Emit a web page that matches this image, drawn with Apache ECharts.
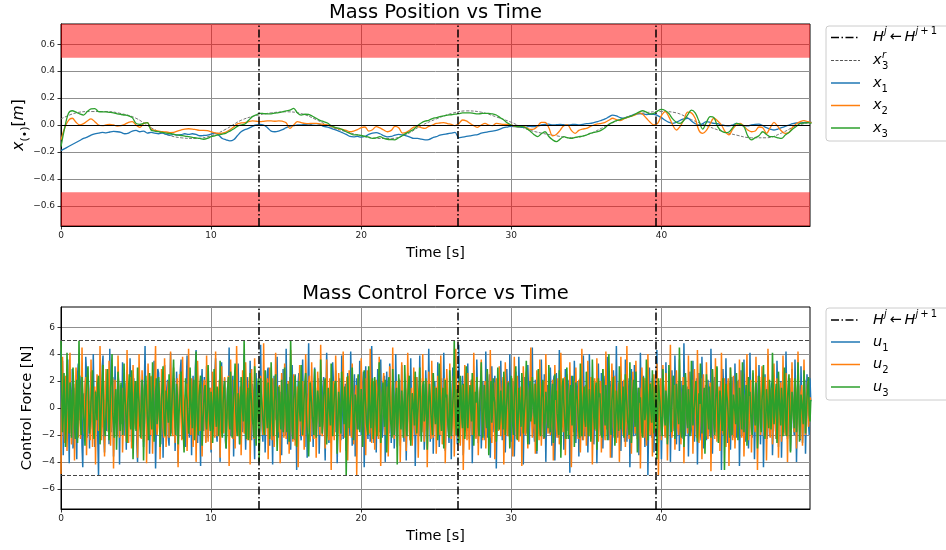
<!DOCTYPE html>
<html>
<head>
<meta charset="utf-8">
<script src="https://cdn.jsdelivr.net/npm/echarts@6/dist/echarts.min.js"></script>
<style>
html,body{margin:0;padding:0;background:#fff}
#chart{width:946px;height:550px}
</style>
</head>
<body>
<div id="chart"></div>
<script>
// ---- data ----
const timeTicks = [0, 10, 20, 30, 40];
const posTicks = [-0.6, -0.4, -0.2, 0, 0.2, 0.4, 0.6];
const forceTicks = [-6, -4, -2, 0, 2, 4, 6];
const switchTimes = [13.2, 26.4, 39.6];
const posBandUpper = [0.5, 0.75];
const posBandLower = [-0.75, -0.5];
const forceLimits = [5, -5];

// mass positions, sampled every 0.25 s
const posStep = 0.25;
const posX1 = [
  -0.19,-0.175,-0.16,-0.145,-0.13,-0.115,-0.10,-0.09,-0.075,-0.065,-0.06,-0.055,-0.058,-0.052,-0.048,-0.05,-0.055,-0.065,-0.06,-0.045,
  -0.04,-0.05,-0.045,-0.06,-0.055,-0.06,-0.065,-0.06,-0.07,-0.075,-0.07,-0.075,-0.072,-0.065,-0.07,-0.065,-0.07,-0.08,-0.078,-0.075,
  -0.068,-0.06,-0.075,-0.1,-0.11,-0.118,-0.11,-0.08,-0.05,-0.035,-0.025,-0.01,0.0,0.005,0.0,-0.02,-0.045,-0.05,-0.045,-0.035,
  -0.02,-0.008,-0.005,0.0,0.0,0.005,0.0,0.008,0.01,0.005,-0.01,-0.015,-0.025,-0.035,-0.045,-0.057,-0.07,-0.085,-0.088,-0.085,
  -0.09,-0.085,-0.07,-0.06,-0.057,-0.065,-0.08,-0.088,-0.085,-0.075,-0.07,-0.074,-0.08,-0.09,-0.1,-0.1,-0.105,-0.11,-0.108,-0.095,
  -0.087,-0.075,-0.07,-0.065,-0.06,-0.055,-0.095,-0.09,-0.085,-0.08,-0.075,-0.072,-0.06,-0.055,-0.05,-0.045,-0.04,-0.03,-0.02,-0.015,
  -0.01,-0.012,-0.015,-0.017,-0.015,-0.01,-0.012,-0.008,0.0,0.005,0.007,0.0,0.002,0.005,0.002,0.0,0.003,0.005,0.0,0.005,
  0.01,0.012,0.018,0.025,0.035,0.045,0.06,0.074,0.068,0.055,0.05,0.06,0.07,0.08,0.085,0.082,0.078,0.08,0.08,0.07,
  0.055,0.035,0.02,0.012,0.02,0.035,0.045,0.05,0.03,0.01,0.0,0.01,0.025,0.02,0.012,0.01,0.0,-0.005,-0.007,0.0,
  0.012,0.005,-0.005,-0.007,0.0,0.005,0.007,-0.005,-0.02,-0.03,-0.037,-0.03,-0.02,-0.01,0.0,0.01,0.015,0.015,0.018,0.02,
  0.02
];
const posX2 = [
  -0.11,-0.02,0.035,0.05,0.02,0.0,0.01,0.03,0.045,0.025,0.0,-0.005,0.0,0.005,0.0,-0.008,-0.005,0.005,0.02,0.025,
  0.0,-0.017,0.01,0.017,-0.03,-0.04,-0.045,-0.05,-0.052,-0.056,-0.055,-0.045,-0.037,-0.03,-0.028,-0.03,-0.035,-0.04,-0.04,-0.042,
  -0.05,-0.058,-0.062,-0.06,-0.052,-0.035,-0.015,0.008,0.015,0.017,0.025,0.03,0.028,0.025,0.027,0.03,0.03,0.028,0.03,0.028,
  0.017,-0.025,0.0,0.025,0.018,0.012,0.01,0.012,0.012,0.008,0.005,0.0,-0.008,-0.02,-0.028,-0.032,-0.04,-0.05,-0.045,-0.035,
  -0.02,-0.015,-0.045,-0.035,-0.012,-0.022,-0.037,-0.05,-0.04,-0.01,-0.02,-0.06,-0.055,-0.037,-0.015,-0.012,-0.02,-0.025,-0.01,0.0,
  0.012,0.015,0.017,0.01,0.005,-0.005,0.01,0.037,0.03,0.012,-0.005,-0.017,0.0,0.012,0.0,-0.005,0.012,0.008,0.005,0.005,
  0.0,-0.01,-0.012,-0.007,-0.02,-0.032,-0.03,-0.01,0.02,0.02,-0.02,-0.08,-0.07,-0.04,-0.005,0.0,-0.04,-0.062,-0.04,-0.03,
  -0.025,-0.012,0.0,0.008,0.012,0.02,0.035,0.05,0.04,0.032,0.045,0.057,0.065,0.075,0.09,0.08,0.05,0.02,0.0,0.012,
  0.07,0.1,0.06,0.0,-0.037,-0.01,0.04,0.095,0.09,0.05,-0.04,-0.062,-0.04,0.01,0.05,0.03,0.0,-0.05,-0.074,-0.03,
  0.0,0.012,-0.01,-0.037,-0.05,-0.045,-0.015,-0.02,-0.062,-0.02,0.02,-0.01,-0.045,-0.062,-0.055,-0.015,0.01,0.025,0.032,0.025,
  0.017
];
const posX3 = [
  -0.16,-0.02,0.087,0.106,0.095,0.082,0.074,0.1,0.12,0.122,0.1,0.098,0.097,0.094,0.09,0.083,0.078,0.074,0.068,0.055,
  0.012,0.005,0.012,0.017,-0.037,-0.045,-0.05,-0.055,-0.06,-0.063,-0.068,-0.074,-0.078,-0.082,-0.087,-0.092,-0.096,-0.1,-0.106,-0.1,
  -0.087,-0.08,-0.074,-0.068,-0.06,-0.045,-0.03,-0.01,0.0,0.007,0.035,0.062,0.075,0.087,0.085,0.082,0.083,0.088,0.092,0.098,
  0.105,0.11,0.124,0.09,0.074,0.08,0.078,0.065,0.05,0.035,0.025,0.015,-0.005,-0.018,-0.024,-0.035,-0.05,-0.062,-0.074,-0.074,
  -0.078,-0.085,-0.09,-0.1,-0.095,-0.087,-0.098,-0.106,-0.108,-0.11,-0.095,-0.078,-0.062,-0.048,-0.032,-0.005,0.015,0.028,0.035,0.048,
  0.055,0.062,0.068,0.074,0.076,0.08,0.084,0.09,0.09,0.09,0.086,0.082,0.085,0.087,0.087,0.082,0.074,0.055,0.037,0.015,
  0.0,-0.008,-0.012,-0.012,-0.025,-0.045,-0.07,-0.087,-0.065,-0.05,-0.085,-0.11,-0.124,-0.105,-0.087,-0.095,-0.1,-0.092,-0.087,-0.083,
  -0.075,-0.062,-0.055,-0.05,-0.038,-0.02,0.005,0.02,0.032,0.04,0.05,0.058,0.066,0.08,0.095,0.106,0.095,0.082,0.087,0.105,
  0.116,0.108,0.085,0.045,0.02,0.012,0.035,0.075,0.11,0.09,0.03,-0.03,0.02,0.062,0.055,-0.012,-0.045,-0.057,-0.052,-0.02,
  0.012,0.005,-0.012,-0.08,-0.11,-0.095,-0.08,-0.05,-0.07,-0.087,-0.087,-0.095,-0.1,-0.075,-0.055,-0.03,-0.01,0.012,0.015,0.017,
  0.012
];
// reference trajectory for mass 3, sampled every 1 s
const refStep = 1;
const posX3Ref = [
  0.045,0.09,0.1,0.1,0.085,0.05,-0.02,-0.07,-0.095,-0.1,
  -0.08,-0.03,0.035,0.07,0.09,0.098,0.085,0.04,-0.015,-0.05,
  -0.08,-0.1,-0.1,-0.07,-0.005,0.045,0.085,0.105,0.095,0.06,
  0.02,-0.03,-0.06,-0.08,-0.095,-0.075,-0.025,0.03,0.07,0.092,
  0.1,0.09,0.04,-0.005,-0.045,-0.075,-0.095,-0.095,-0.06,-0.005,
  0.02
];

// control forces, sampled every 0.05 s
const forceStep = 0.05;
const forceU1 = [
  4.2,-1.3,3.5,-3.5,0.4,2.1,-2.4,-1.2,1.8,3.6,-0.7,-4.1,2.2,0.8,-1.9,2.9,-3.0,-2.6,0.6,1.5,-1.1,-3.8,2.4,3.3,-0.5,-0.9,1.7,2.4,-2.8,-4.4,0.9,1.1,-1.5,3.8,2.6,-2.2,-0.3,0.5,-3.0,1.4,2.7,-0.8,-1.6,4.0,0.7,-2.9,1.3,-0.6,2.0,-2.3,
  -5.0,1.2,2.6,-0.4,-1.1,3.1,3.9,-2.0,-3.3,0.6,0.7,-1.7,2.2,1.3,-2.7,4.4,-0.2,-1.8,1.0,2.3,-3.6,-0.6,3.1,0.9,-0.4,-2.1,2.5,1.6,-4.2,0.3,1.7,-1.2,3.4,-0.7,-2.0,1.9,0.3,-3.1,2.8,0.4,-1.4,-0.5,3.7,1.1,-2.5,-1.3,0.8,2.2,-1.0,-0.2,
  1.9,-2.6,-4.0,0.9,3.0,1.4,-0.8,-1.9,2.0,0.2,-2.9,1.6,4.6,-0.3,-1.5,-2.4,0.9,2.5,-3.4,-0.8,2.3,1.1,-2.1,-1.2,3.5,0.4,-4.5,-1.6,1.2,2.9,2.6,-0.4,-1.3,-2.7,0.4,1.6,-3.7,0.2,3.2,-1.1,-0.6,1.5,2.1,-2.2,-2.8,0.7,4.1,-0.9,-1.9,1.0,
  0.6,2.2,-3.2,-1.0,2.7,0.5,-4.1,-0.4,1.4,2.8,3.6,-1.2,-2.3,0.8,0.2,-1.6,-2.9,1.9,3.9,-0.3,-1.0,-2.2,1.8,0.6,-3.5,1.3,2.4,-1.1,-0.7,3.0,4.3,-1.4,-2.6,0.3,1.1,-0.9,-4.3,1.6,2.9,-0.2,-1.7,2.3,0.8,-2.5,3.1,-0.6,-2.2,1.2,1.5,-1.3,
  -3.3,0.7,2.0,-0.9,-1.4,2.6,3.7,-1.8,-2.5,0.4,0.9,-0.6,-4.0,1.9,3.4,-1.5,-0.3,1.1,2.2,-2.4,-3.0,0.3,1.6,-0.8,4.5,-0.1,-2.1,-1.0,0.5,2.4,-3.6,-0.7,2.8,1.5,-1.2,-2.0,3.3,0.6,-2.7,-0.4,1.0,2.1,-1.8,-1.1,4.0,0.2,-3.1,-0.9,2.3,1.4,
  -0.9,-2.2,3.5,0.7,-2.4,1.8,1.3,-1.5,-3.8,0.9,2.6,-0.3,0.4,1.9,-2.0,-1.2,4.7,0.5,-1.6,-2.5,2.1,1.0,-3.3,-0.6,0.8,2.7,3.0,-1.3,-2.8,0.1,1.7,-0.8,-4.2,1.3,2.4,-0.9,-0.5,2.0,3.8,-1.7,-2.2,0.6,1.2,-1.4,-3.5,0.5,2.9,0.3,-1.1,-2.0,
  4.4,0.3,-2.7,-1.2,0.7,2.3,-3.1,-0.5,3.2,1.0,-1.3,-2.4,2.5,0.8,-4.6,-0.9,1.9,2.6,0.3,-1.7,-2.4,1.2,3.6,-0.4,-1.5,-2.9,2.0,0.9,-3.7,1.5,4.8,-0.2,-0.8,-2.1,1.4,0.7,-2.9,1.8,3.0,-1.0,-1.9,-0.3,0.6,2.2,-3.4,-1.3,2.7,0.5,-0.4,1.6,
  2.3,-1.2,-3.9,0.8,4.1,1.3,-1.7,-2.6,1.1,0.4,-2.6,-0.5,3.4,1.9,-0.6,-1.8,2.8,0.3,-4.1,-1.0,1.5,2.2,-1.2,-2.4,3.9,0.9,-2.3,-0.7,0.9,1.8,-3.2,-1.4,2.6,0.5,-1.0,-2.0,4.2,1.1,-2.8,-0.6,1.3,2.5,-3.6,-0.9,2.2,1.2,-0.7,-1.6,3.5,0.4,
  -2.0,-0.6,1.8,2.7,-4.4,-1.1,3.1,0.6,-0.9,-2.3,2.4,1.4,-2.5,-0.4,4.6,0.8,-1.4,-2.6,0.8,1.9,-3.3,-0.2,2.9,1.1,-1.8,-1.0,3.6,0.3,-2.2,-1.5,1.2,2.4,-4.0,-0.7,2.7,0.9,-0.3,-1.9,3.3,1.6,-2.6,-0.8,1.5,2.0,-3.0,-1.2,4.0,0.5,-1.6,-0.4,
  0.9,2.1,-2.8,-0.9,3.2,0.6,-1.1,-2.5,2.1,1.2,-3.9,-0.3,2.6,1.7,-0.5,-1.6,3.7,0.2,-2.4,-1.3,1.0,2.3,-4.3,-0.8,2.3,1.4,-1.3,-2.1,3.9,0.5,-2.0,-0.7,0.7,1.8,-3.1,-1.5,2.8,0.9,-1.7,-0.4,4.4,1.0,-2.5,-1.1,1.4,2.6,-3.4,-0.2,2.0,0.7,
  -1.0,-2.3,3.4,1.5,-2.9,-0.6,1.7,2.2,-0.6,-1.5,4.1,0.8,-3.2,-1.2,2.2,0.4,-1.5,-2.6,0.4,1.9,-3.8,-0.5,3.0,1.2,-1.2,-2.0,2.5,0.6,-2.7,-1.1,4.7,0.9,-1.9,-0.3,1.1,2.4,-3.5,-0.9,2.6,1.3,-0.8,-1.7,3.3,0.2,-2.3,-1.4,1.6,2.1,-4.1,-0.6,
  2.8,0.5,-1.4,-2.2,3.6,1.1,-2.6,-0.8,0.9,1.6,-3.0,-1.3,2.0,0.7,-1.1,-2.4,4.2,0.6,-2.2,-0.5,1.3,2.5,-3.7,-1.0,3.1,0.8,-0.7,-1.8,2.4,1.5,-4.5,-0.4,1.8,2.2,-1.6,-0.9,3.5,0.3,-2.4,-1.6,0.6,1.9,-3.3,-0.7,2.9,1.2,-1.0,-2.1,4.0,0.8,
  -2.5,-0.8,1.2,2.0,-3.6,-1.2,2.7,0.6,-0.9,-2.2,3.8,1.3,-2.1,-0.4,1.5,2.3,-4.2,-0.9,2.3,0.8,-1.3,-1.9,3.2,1.4,-2.7,-0.3,0.8,1.7,4.5,-0.6,-1.8,-2.5,2.1,0.9,-3.4,-1.0,1.0,2.6,-2.0,-0.8,3.6,0.4,-1.2,-2.3,2.5,1.1,-4.0,-0.5,1.7,1.2,
  -0.6,-1.9,3.0,0.9,-2.8,-0.5,1.9,2.4,-3.9,-1.1,2.6,0.7,-1.4,-2.2,4.3,0.6,-2.3,-0.8,0.7,1.9,-3.1,-1.2,2.9,1.0,-1.7,-0.6,1.3,2.1,-4.8,-0.9,2.4,0.5,-0.9,-1.8,3.5,1.3,-2.6,-0.7,1.1,2.0,-3.6,-1.3,2.2,0.6,-1.0,-2.4,3.9,0.8,-2.1,-0.3,
  1.4,2.2,-3.3,-0.7,4.0,0.9,-1.5,-2.3,2.3,1.0,-2.7,-0.6,0.9,1.7,-4.1,-1.1,3.3,0.5,-1.1,-2.0,2.6,1.3,-3.0,-0.4,1.6,2.4,-0.5,-1.6,3.8,0.7,-2.4,-1.2,1.3,2.0,-3.7,-0.8,2.8,1.1,-1.8,-0.5,4.6,0.4,-2.2,-1.4,0.8,1.8,-3.2,-0.9,2.0,0.6,
  -1.3,-2.5,3.6,0.8,-2.5,-0.4,1.0,2.2,-4.4,-1.2,2.9,0.6,-1.6,-2.1,3.2,1.4,-2.0,-0.7,0.6,1.5,-3.5,-1.0,4.1,0.9,-1.2,-1.9,2.4,0.3,-2.9,-0.6,1.8,2.5,-5.0,-1.3,3.0,0.7,-0.8,-2.2,2.2,1.2,-3.3,-0.5,1.5,2.3,4.3,-0.9,-2.6,-1.4,1.1,0.4,
  -3.8,-0.9,2.5,1.3,-1.0,-2.0,3.4,0.5,-2.3,-1.1,1.7,2.6,-4.0,-0.6,2.8,0.8,-0.7,-1.7,3.9,1.1,-2.7,-0.4,1.2,2.0,-3.2,-1.2,2.0,0.6,-1.5,-2.3,4.8,0.9,-2.1,-0.8,0.9,1.6,-3.6,-0.3,2.7,1.4,-1.3,-2.0,3.5,0.4,-2.5,-1.0,1.4,2.2,-4.2,-0.7,
  2.6,0.8,-1.8,-2.4,3.8,1.2,-3.0,-0.9,0.8,1.7,-2.4,-1.3,2.1,0.6,-1.2,-2.1,4.4,1.0,-3.4,-0.5,1.6,2.3,-0.9,-1.8,3.0,0.7,-2.2,-1.4,1.1,2.0,-4.6,-0.8,2.9,1.3,-1.5,-0.6,3.7,0.4,-2.6,-1.7,0.7,1.9,-3.1,-0.9,2.3,1.1,-1.1,-2.2,3.3,0.6,
  -2.2,-0.7,1.5,2.1,-4.3,-1.3,2.8,0.9,-1.3,-2.0,3.6,0.5,-2.5,-0.6,0.9,1.8,-3.0,-1.2,4.1,1.0,-1.7,-2.2,2.3,0.7,-3.8,-1.0,1.2,2.4,-0.6,-1.5,3.2,0.8,-2.7,-0.4,1.8,2.0,-4.4,-1.1,2.5,1.2,-1.0,-2.3,3.9,0.6,-2.1,-0.8,1.3,1.9,-3.5,-1.4,
  2.4,0.9,-1.6,-2.3,3.5,1.0,-2.9,-0.7,1.0,2.0,-3.7,-1.1,2.7,0.5,-0.8,-1.9,4.2,0.8,-2.3,-1.5,1.5,2.2,-3.2,-0.6,2.9,1.2,-1.4,-2.0,3.6,0.7,-4.0,-0.9,2.0,1.6,-1.1,-2.4,3.1,0.4,-2.6,-1.0,1.3,2.1,-3.4,-0.8,2.5,1.1,-1.2,-2.0,2.2,0.5
];
const forceU2 = [
  -4.9,0.8,3.8,1.2,-1.5,-2.6,2.4,0.3,-3.2,-0.7,1.0,2.5,4.1,-0.9,-2.7,-1.4,0.6,1.8,-3.9,-0.4,3.0,1.1,-1.1,-2.2,2.7,0.6,-2.3,-1.0,4.5,0.4,-0.8,-1.9,1.8,2.3,-3.5,-0.6,2.2,0.9,-1.4,-2.4,3.6,0.7,-2.9,-1.2,0.9,1.6,-4.2,-0.3,2.5,1.3,
  -1.7,-0.5,4.6,0.9,-2.4,-1.3,1.2,2.0,-3.6,-0.8,2.9,1.4,-0.5,-1.8,3.5,0.6,-2.8,-0.9,1.6,2.2,-4.5,-1.1,2.1,0.7,-1.0,-2.1,3.9,1.0,-2.2,-0.4,0.7,1.5,-3.3,-1.2,2.6,0.8,-1.3,-2.5,4.3,0.5,-2.6,-1.0,1.4,2.3,-3.0,-0.7,3.2,1.2,-0.9,-1.6,
  2.0,0.6,-3.7,-1.1,4.0,0.9,-1.6,-2.3,2.8,1.3,-2.5,-0.6,0.5,1.7,-4.1,-0.9,3.3,0.8,-1.2,-2.0,2.4,1.1,-3.4,-0.5,1.5,2.4,4.6,-0.7,-2.0,-1.4,0.8,1.9,-3.8,-1.0,2.9,0.6,-1.5,-2.2,3.7,1.2,-2.9,-0.8,1.1,2.0,-2.2,-1.3,4.2,0.4,-1.4,-2.1,
  3.0,1.0,-2.6,-0.9,1.3,2.2,-4.4,-1.2,2.5,0.7,-1.0,-2.4,3.8,0.5,-2.3,-1.1,0.9,1.8,-3.2,-0.6,4.4,1.2,-1.7,-2.0,2.2,0.6,-2.9,-1.3,1.0,2.3,-4.0,-0.8,3.5,0.9,-0.6,-1.7,2.0,1.4,-3.6,-1.0,1.7,2.1,-1.2,-2.6,3.9,0.4,-2.5,-0.7,0.6,1.5,
  -3.1,-0.8,2.7,1.3,-1.4,-2.2,4.2,0.7,-2.1,-1.0,1.2,2.1,-3.7,-0.6,3.1,1.1,-0.8,-1.9,2.3,0.5,-2.7,-1.2,1.4,2.4,-4.3,-0.9,3.6,0.8,-1.6,-2.3,2.1,1.0,-3.0,-0.4,4.6,1.3,-1.1,-2.1,0.7,1.6,-3.5,-0.8,2.8,0.6,-1.9,-1.4,3.4,1.1,-2.4,-0.6,
  1.5,2.3,-4.2,-1.0,2.9,0.5,-1.2,-2.3,3.7,1.2,-2.6,-0.7,0.8,1.9,-3.3,-1.1,2.4,0.7,-0.9,-2.0,4.8,0.9,-2.0,-1.3,1.6,2.2,-3.8,-0.5,3.0,1.0,-1.4,-2.4,2.2,0.6,-2.9,-0.9,4.1,1.3,-1.6,-1.8,0.9,1.7,-4.1,-0.6,2.6,0.8,-1.2,-2.2,3.3,1.0,
  -2.3,-0.7,1.1,2.0,-3.4,-1.2,4.3,0.6,-1.8,-2.5,2.5,1.1,-2.8,-0.4,0.6,1.6,-4.4,-1.0,3.2,0.9,-1.3,-2.1,2.0,0.5,-3.1,-1.3,4.0,1.2,-0.7,-1.8,1.9,2.4,-2.5,-0.6,3.4,0.7,-1.5,-2.3,0.8,1.5,-3.7,-0.9,2.7,1.3,-1.0,-2.0,4.7,0.4,-2.1,-1.2,
  1.3,2.1,-3.0,-0.8,3.6,1.0,-1.9,-2.4,2.2,0.7,-4.6,-1.1,1.0,2.0,-2.4,-0.5,3.9,1.2,-1.1,-1.9,2.6,0.6,-3.3,-1.2,0.5,1.8,4.2,-0.6,-2.2,-1.4,1.4,2.3,-3.9,-0.7,2.8,1.0,-1.3,-2.2,3.3,0.5,-2.7,-1.0,0.9,1.7,-5.0,-0.9,2.4,1.3,-1.6,-0.8,
  3.7,0.9,-2.1,-1.3,1.2,2.2,-3.5,-0.6,2.8,1.1,-0.6,-1.9,4.4,0.7,-2.6,-1.0,1.7,2.0,-3.1,-0.8,2.1,1.3,-1.4,-2.3,3.8,0.5,-4.3,-1.1,1.0,1.8,2.6,-0.4,-2.0,-1.5,0.7,1.6,-3.6,-0.9,3.1,1.2,-1.2,-2.1,4.5,0.6,-2.3,-1.3,1.3,2.0,-2.9,-0.5,
  2.2,1.0,-4.0,-1.2,3.4,0.8,-1.0,-2.2,1.8,1.4,-3.2,-0.6,4.1,0.9,-1.7,-2.4,0.4,1.5,-2.8,-1.0,3.0,1.2,-1.5,-2.0,2.3,0.6,-3.7,-0.8,1.6,2.2,-0.8,-1.8,4.0,0.7,-2.5,-1.3,1.1,2.0,-4.4,-0.9,2.7,1.0,-1.3,-2.3,3.5,0.5,-2.2,-1.1,0.7,1.6,
  -3.4,-0.9,2.4,1.3,-1.1,-2.0,3.9,0.6,-2.7,-1.2,1.2,2.2,-4.1,-0.7,2.9,1.0,-0.9,-1.8,3.3,0.5,-2.3,-1.4,1.5,2.4,-3.6,-0.6,4.4,1.1,-1.5,-2.2,2.0,0.8,-2.8,-1.0,0.8,1.7,-4.6,-1.2,3.2,0.9,-1.0,-2.4,2.6,0.6,-3.1,-0.8,1.7,2.1,-2.0,-1.3,
  4.1,0.8,-1.6,-2.3,2.3,1.2,-3.5,-0.9,0.9,1.8,3.6,-0.5,-2.4,-1.4,1.2,2.0,-3.0,-0.7,2.7,1.1,-1.3,-2.2,4.3,0.6,-2.6,-1.0,1.0,1.9,-3.8,-1.2,2.2,0.5,-0.7,-1.7,3.1,1.3,-2.1,-0.8,1.4,2.3,-4.2,-1.1,3.4,0.7,-1.5,-2.1,2.0,1.0,-2.9,-0.6,
  1.0,2.2,-3.6,-1.0,3.8,0.9,-1.4,-2.3,2.4,0.6,-2.5,-1.2,0.7,1.6,-4.3,-0.8,3.1,1.2,-1.8,-2.0,2.7,0.5,-3.0,-1.1,1.3,2.1,4.5,-0.6,-2.2,-1.3,0.9,1.8,-3.4,-0.9,2.8,1.0,-1.2,-2.4,3.6,0.7,-2.8,-1.0,1.6,2.0,-2.3,-0.7,4.0,0.9,-1.1,-1.9,
  2.6,0.7,-2.0,-1.3,1.1,2.1,-3.9,-0.8,3.2,1.0,-1.5,-2.2,2.2,0.6,-2.7,-1.1,4.1,0.9,-0.8,-1.8,1.7,2.3,-3.5,-0.6,2.5,1.2,-1.3,-2.0,3.4,0.5,-4.4,-1.2,1.4,2.0,-2.1,-0.9,3.0,1.1,-1.0,-2.3,2.1,0.7,-3.3,-1.0,4.4,0.8,-2.4,-1.4,1.2,1.7,
  -2.8,-0.8,3.5,1.2,-1.2,-2.1,2.3,0.6,-4.2,-1.1,1.5,2.2,-0.9,-1.7,3.7,0.9,-2.5,-1.2,1.8,2.0,-3.3,-0.6,2.9,1.3,-1.6,-2.4,4.2,0.7,-2.0,-1.0,0.8,1.6,-3.7,-0.9,3.3,1.1,-1.4,-2.2,2.4,0.5,-2.6,-1.3,1.0,1.9,-4.0,-0.7,3.8,1.0,-1.3,-2.0,
  2.1,0.9,-2.9,-1.1,4.6,0.8,-1.7,-2.3,1.3,2.1,-3.4,-0.7,2.7,1.2,-1.0,-1.9,3.5,0.6,-2.3,-1.3,0.6,1.5,-4.5,-0.9,3.0,1.1,-1.6,-2.2,2.2,0.7,-2.8,-1.0,4.0,1.3,-1.2,-2.0,1.9,0.5,-3.6,-1.2,2.5,1.0,-0.8,-1.8,3.3,0.8,-5.0,-1.1,1.6,2.2,
  -2.4,-0.6,3.2,1.1,-1.3,-2.2,2.6,0.7,-3.9,-1.0,1.4,2.0,4.7,-0.8,-2.2,-1.4,0.9,1.7,-3.1,-0.9,2.8,1.2,-1.5,-2.0,3.6,0.6,-2.7,-1.1,1.1,2.3,-4.1,-0.7,2.3,1.0,-0.7,-1.9,3.9,0.8,-2.0,-1.3,1.5,2.1,-3.4,-0.5,2.9,1.1,-1.1,-2.2,4.3,0.9,
  -2.6,-1.2,1.7,2.2,-3.8,-0.8,2.5,1.0,-1.0,-2.1,3.4,0.6,-2.3,-1.3,1.2,1.9,-4.7,-1.0,2.9,0.8,-1.4,-2.3,3.7,1.1,-2.5,-0.7,0.8,1.6,-3.2,-1.2,4.1,0.9,-1.8,-2.0,2.2,0.5,-2.9,-1.1,1.3,2.2,-4.3,-0.6,3.0,1.0,-1.2,-2.4,2.4,0.7,-3.0,-0.9,
  1.8,2.0,-2.1,-0.9,3.6,1.2,-1.5,-2.2,2.7,0.6,-3.6,-1.3,0.9,1.7,4.0,-0.8,-2.4,-1.0,1.4,2.1,-3.3,-0.7,2.6,1.1,-1.1,-1.8,3.8,0.5,-4.6,-1.2,1.6,2.3,-2.0,-0.6,3.1,0.9,-1.3,-2.1,2.3,1.2,-3.9,-0.9,4.4,0.7,-1.7,-2.2,0.8,1.5,-2.7,-1.0,
  3.3,0.8,-1.4,-2.3,2.2,1.1,-3.7,-0.7,1.0,1.9,-2.5,-1.2,3.9,0.6,-1.2,-2.0,2.6,1.0,-4.0,-0.8,1.5,2.2,-2.2,-1.1,3.4,0.7,-0.9,-1.8,2.0,1.3,-3.0,-0.6,4.2,0.9,-1.6,-2.3,1.1,1.7,-2.8,-1.0,3.6,0.5,-2.0,-1.3,1.3,2.0,-1.4,-0.7,0.8,0.6
];
const forceU3 = [
  5.0,1.2,-1.8,-0.6,2.6,0.4,-2.9,-1.1,4.1,1.5,-0.6,-1.9,1.9,0.8,-2.2,-0.5,3.0,1.3,-1.4,-2.3,0.8,2.1,-2.6,-0.4,5.0,0.9,-1.1,-2.0,2.3,1.0,-0.4,-1.5,-2.8,0.6,1.7,2.4,3.1,-0.3,-1.9,-1.0,0.5,1.6,2.8,-0.8,-2.3,-1.2,1.2,0.3,-0.9,1.8,
  2.4,0.6,-2.7,-1.0,0.9,2.0,3.2,-0.5,-1.6,-2.1,-0.3,1.1,2.9,0.2,-2.4,-0.8,1.5,2.3,4.0,-0.4,-1.2,-2.2,0.6,1.4,-3.1,-0.6,2.7,1.2,-0.8,-1.7,1.9,0.5,-2.0,-1.1,3.3,0.9,0.2,-1.4,-2.6,0.4,1.4,2.5,-0.5,-1.6,2.8,0.7,-3.8,-1.0,1.1,2.0,
  -1.7,-0.4,3.0,1.1,0.4,-1.3,-2.2,0.2,2.1,1.3,-3.9,-0.9,1.6,2.4,0.9,-0.6,-1.5,-2.4,2.6,0.8,-0.7,-1.6,3.4,0.5,-2.5,-1.0,1.0,2.2,-1.2,-0.3,2.3,1.0,-2.9,-1.3,0.7,1.8,3.1,-0.2,-1.8,-2.1,1.3,0.6,-0.2,-1.1,2.5,1.2,-2.1,-0.8,0.8,1.9,
  3.6,0.7,-1.4,-2.0,1.8,0.9,-2.7,-0.6,0.3,1.6,2.7,-0.1,-1.0,-1.9,-3.3,0.4,2.2,1.1,0.6,-0.9,-1.9,-1.2,3.0,0.8,-0.4,-1.5,1.5,2.1,-2.4,-0.7,4.2,0.6,-1.3,-2.0,0.9,1.7,2.4,-0.2,-2.8,-1.1,0.1,1.3,1.7,-0.8,-1.6,-0.3,3.2,1.0,-0.9,-1.7,
  1.2,0.3,-2.6,-1.2,2.9,1.2,-0.5,-1.4,1.6,0.5,-2.1,-0.8,3.5,1.0,-1.7,-2.2,0.4,1.5,2.0,-0.4,-3.0,-1.0,1.3,2.3,-0.8,-1.6,2.7,0.7,-2.2,-0.5,0.8,1.8,3.3,-0.3,-1.5,-2.1,1.1,0.6,-2.7,-1.3,2.3,1.2,-0.3,-1.0,5.0,0.9,-1.9,-2.3,0.7,1.5,
  -2.4,-0.7,2.6,1.1,0.5,-0.9,-1.3,-2.2,3.1,0.7,-2.8,-0.6,1.4,2.2,-4.0,-1.0,2.2,0.8,0.9,-0.8,-1.6,-2.0,2.8,1.3,-0.6,-1.5,1.9,0.4,-2.3,-0.9,3.4,1.2,-1.1,-2.1,0.3,1.4,2.5,-0.3,-3.2,-1.2,1.6,0.9,-0.9,-1.6,2.1,0.6,-1.8,-0.5,3.0,1.1,
  -0.7,-1.8,1.8,0.5,-2.5,-0.8,5.0,1.3,-1.4,-2.3,0.6,1.6,2.4,-0.2,-2.9,-1.2,1.1,2.0,-0.3,-1.0,3.2,0.8,-2.0,-0.6,0.8,1.9,2.6,-0.4,-1.7,-2.4,-3.6,-0.9,1.9,1.0,0.4,-0.7,-1.2,-2.0,2.9,1.2,-2.2,-0.8,1.3,0.6,-0.5,-1.4,3.6,0.9,-1.9,-1.0,
  0.9,1.7,2.2,-0.3,-2.7,-1.1,1.5,0.6,-0.4,-1.3,3.3,1.0,-2.1,-0.5,0.7,1.8,2.0,-0.6,-3.4,-1.2,1.2,0.4,-1.0,-1.9,2.7,1.1,-0.2,-1.2,1.6,0.7,-5.0,-1.3,2.4,0.9,-1.5,-0.4,0.8,1.6,3.0,-0.3,-2.4,-1.1,1.0,0.5,-0.7,-1.6,2.5,0.8,-1.8,-0.6,
  1.4,0.4,-2.9,-1.0,2.8,1.3,0.2,-1.1,-1.6,-2.0,3.1,0.6,-0.8,-1.5,1.7,2.2,-2.3,-0.7,2.3,0.9,-1.2,-2.1,0.5,1.4,3.4,-0.2,-2.6,-1.2,1.0,1.9,-0.4,-1.4,2.1,0.7,-3.3,-1.0,1.8,2.3,0.6,-0.9,-1.4,-2.2,2.9,1.0,-2.0,-0.5,0.9,1.5,-4.2,-1.1,
  2.5,0.6,-0.6,-1.6,1.3,0.3,-2.2,-0.9,3.2,1.2,-1.5,-2.1,0.8,1.7,2.4,-0.4,-2.8,-1.1,1.1,0.5,-0.3,-1.3,2.7,0.9,-1.9,-0.7,0.4,1.4,3.0,-0.2,-2.5,-1.2,1.6,2.0,-1.0,-0.4,2.2,0.8,-3.1,-1.0,0.7,1.8,1.9,-0.5,-1.3,-2.0,2.6,1.1,-0.5,-1.2,
  1.5,0.4,-2.4,-1.3,3.3,1.0,-0.9,-1.7,0.6,1.5,-3.0,-0.6,2.1,0.8,1.0,-0.7,-1.7,-2.2,2.8,1.2,-2.1,-0.8,0.3,1.3,5.0,0.4,-1.2,-2.0,1.4,0.6,-2.6,-0.9,2.4,1.2,-0.7,-1.5,1.8,0.5,-2.3,-1.1,3.1,0.9,-1.5,-0.4,0.9,1.7,-0.2,-1.0,2.6,0.8,
  -2.8,-1.0,1.2,0.4,2.3,1.1,-1.4,-2.1,0.5,1.6,3.4,-0.3,-2.2,-1.0,1.7,0.7,-0.6,-1.5,2.9,1.0,-3.5,-1.2,1.0,2.0,-1.1,-0.3,2.2,0.8,0.4,-0.9,-2.5,-1.4,3.0,1.1,-1.6,-0.7,1.3,0.4,-0.8,-1.6,2.7,1.2,-2.0,-0.6,0.6,1.5,1.9,-0.4,-3.0,-1.1,
  2.4,0.9,-1.3,-2.0,0.8,1.7,3.1,-0.2,-2.4,-1.1,1.5,0.6,-0.5,-1.4,2.6,1.2,-1.9,-0.7,0.2,1.3,3.5,0.4,-2.7,-1.3,1.1,2.0,-1.0,-0.3,2.3,0.8,-0.3,-1.2,1.8,0.6,-3.2,-1.0,2.9,1.3,-1.4,-2.1,0.7,1.6,2.1,-0.5,-2.2,-0.9,1.2,0.3,-0.6,-1.5,
  3.2,1.1,-1.8,-0.7,0.9,1.8,-2.6,-1.2,2.5,0.6,1.3,-0.4,-1.1,-2.0,2.8,1.0,-3.7,-1.1,1.6,2.2,0.4,-0.8,-1.5,-2.3,3.0,0.9,-2.3,-0.6,1.0,1.7,-0.4,-1.3,2.4,0.8,-2.9,-1.0,1.9,1.2,0.6,-0.6,-1.7,-2.2,3.3,1.0,-2.1,-0.7,0.8,1.6,-0.9,-1.4,
  2.7,0.7,-1.4,-2.1,1.4,0.5,-2.5,-0.9,3.6,1.2,-0.7,-1.6,0.9,1.9,-3.1,-1.0,2.2,0.8,1.1,-0.3,-1.9,-2.2,2.9,1.1,-0.5,-1.3,1.7,0.6,-2.4,-0.8,4.0,1.0,-1.2,-2.0,0.5,1.4,2.3,-0.4,-2.8,-1.2,1.3,0.5,-0.8,-1.7,3.1,0.9,-1.6,-0.6,0.6,1.6,
  -2.2,-0.8,2.5,1.2,0.3,-1.0,-1.3,-2.0,3.4,0.7,-2.6,-1.1,1.2,2.1,-0.6,-1.4,2.7,0.9,-3.3,-1.2,1.5,0.4,0.8,-0.7,-1.8,-2.2,2.3,1.0,-0.9,-0.3,3.6,1.2,-2.4,-1.0,1.0,1.8,-0.2,-1.1,2.8,0.6,-1.9,-0.6,1.6,0.8,-3.8,-1.2,2.2,1.1,0.5,-0.7,
  -1.5,-2.1,2.9,0.8,-0.6,-1.3,1.3,0.5,-2.7,-0.9,3.2,1.1,-1.0,-1.8,0.7,1.6,2.4,-0.3,-2.3,-1.2,1.8,0.6,-0.4,-1.2,4.5,0.8,-1.7,-2.2,0.9,1.7,-2.9,-0.8,2.6,1.0,-0.8,-1.5,1.4,0.4,-2.1,-1.0,3.5,1.3,-1.3,-0.5,0.2,1.2,2.0,-0.4,-2.5,-1.1,
  1.1,0.3,3.3,0.9,-1.9,-0.6,0.6,1.5,-3.4,-1.2,2.5,0.8,-0.7,-1.6,1.6,0.5,-2.2,-0.9,2.9,1.1,-1.2,-2.0,0.4,1.4,3.1,-0.2,-2.6,-1.1,1.3,0.6,-0.9,-1.7,2.2,0.8,-4.6,-1.3,1.8,1.0,0.5,-0.6,-1.6,-2.2,3.0,1.2,-2.0,-0.7,1.0,0.4,-0.3,-1.2,
  2.6,0.8,-2.4,-0.9,1.5,0.7,-0.7,-1.6,3.4,1.1,-1.8,-0.5,0.8,1.7,-2.8,-1.1,2.3,0.9,1.2,-0.4,-1.4,-2.0,2.8,0.7,-0.5,-1.3,1.9,0.6,-3.0,-1.2,2.4,1.0,-1.1,-1.8,0.6,1.5,3.2,-0.3,-2.3,-1.1,1.4,0.5,-0.8,-1.5,2.1,0.8,-1.6,-0.6,4.1,1.2,
  -1.2,-0.4,0.9,1.8,-2.6,-1.0,2.7,0.8,-0.4,-1.3,1.5,0.5,-2.1,-0.8,3.0,1.1,-1.5,-2.1,0.7,1.6,2.5,-0.3,-3.3,-1.2,1.2,0.6,-0.6,-1.5,2.2,0.9,-1.8,-0.7,3.4,1.0,-2.5,-1.1,1.0,0.4,-0.2,-1.2,2.8,0.9,-1.9,-0.6,0.8,1.6,2.3,-0.5,-1.0,0.6
];

// ---- styling ----
const FONT = 'DejaVu Sans';
const C_BLUE = '#1f77b4', C_ORANGE = '#ff7f0e', C_GREEN = '#2ca02c';
const GRID_COLOR = '#8f8f8f';
const DASH_DOT = [8, 2.5, 1.5, 2.5];

const pairs = (vals, step) => vals.map((v, i) => [Math.round(i * step * 1000) / 1000, v]);
const minus = s => String(s).replace('-', '\u2212');

const mathRich = {
  it:   { fontFamily: FONT, fontStyle: 'italic', fontSize: 14.5, lineHeight: 22, color: '#000' },
  rm:   { fontFamily: FONT, fontSize: 14.5, lineHeight: 22, color: '#000' },
  supi: { fontFamily: FONT, fontStyle: 'italic', fontSize: 10, verticalAlign: 'top', color: '#000' },
  sup:  { fontFamily: FONT, fontSize: 10, verticalAlign: 'top', color: '#000' },
  sub:  { fontFamily: FONT, fontSize: 10, verticalAlign: 'bottom', color: '#000' }
};

function xAxis(gridIndex) {
  return {
    type: 'value', gridIndex, min: 0, max: 49.9,
    name: 'Time [s]', nameLocation: 'middle', nameGap: 20,
    nameTextStyle: { fontFamily: FONT, fontSize: 14.5, color: '#000' },
    axisLine: { show: true, onZero: false, lineStyle: { color: '#000', width: 1 } },
    axisTick: { show: true, length: 3.5, customValues: timeTicks, lineStyle: { color: '#000', width: 0.8 } },
    axisLabel: { customValues: timeTicks, fontFamily: FONT, fontSize: 9, color: '#222', margin: 5 },
    splitLine: { show: true, lineStyle: { color: GRID_COLOR, width: 1 } }
  };
}
function yAxis(gridIndex, min, max, ticks, fmt, name, nameGap, rich) {
  return {
    type: 'value', gridIndex, min, max,
    name, nameLocation: 'middle', nameGap, nameRotate: 90, nameMoveOverlap: false,
    nameTextStyle: Object.assign({ fontFamily: FONT, fontSize: 14.7, color: '#000' }, rich ? { rich } : {}),
    axisLine: { show: true, onZero: false, lineStyle: { color: '#000', width: 1 } },
    axisTick: { show: true, length: 3.5, customValues: ticks, lineStyle: { color: '#000', width: 0.8 } },
    axisLabel: { customValues: ticks, fontFamily: FONT, fontSize: 9, color: '#222', margin: 6, formatter: fmt },
    splitLine: { show: true, lineStyle: { color: GRID_COLOR, width: 1 } }
  };
}

const switchMarks = switchTimes.map(t => ({ xAxis: t, lineStyle: { color: '#000', width: 1.5, type: DASH_DOT } }));
const noMarkerDeco = { symbol: 'none', silent: true, animation: false, label: { show: false }, emphasis: { disabled: true } };

function posSeries(name, vals, color, extra) {
  return Object.assign({
    name, type: 'line', xAxisIndex: 0, yAxisIndex: 0,
    data: pairs(vals, posStep), showSymbol: false, smooth: 0.35,
    lineStyle: { color, width: 1.3 }, itemStyle: { color }, animation: false, z: 2
  }, extra || {});
}
function forceSeries(name, vals, color, width, extra) {
  return Object.assign({
    name, type: 'line', xAxisIndex: 1, yAxisIndex: 1,
    data: pairs(vals, forceStep), showSymbol: false,
    lineStyle: { color, width }, itemStyle: { color }, animation: false, z: 2
  }, extra || {});
}

// ---- legend boxes (drawn as graphics) ----
function legendFrame(top, height) {
  return { type: 'rect', shape: { x: 826, y: top, width: 130, height, r: 3 },
           style: { fill: 'rgba(255,255,255,0.8)', stroke: '#cccccc', lineWidth: 1 }, z: 10, silent: true };
}
function legendLine(y, color, width, dash) {
  return { type: 'line', shape: { x1: 831, y1: y, x2: 860, y2: y },
           style: { stroke: color, lineWidth: width, lineDash: dash || null }, z: 11, silent: true };
}
function legendText(y, text, x) {
  return { type: 'text', x: x || 873, y, style: { text, rich: mathRich, verticalAlign: 'middle', align: 'left' }, z: 11, silent: true };
}
const switchLabel = '{it|H}{supi|j}{rm|\u2009←\u2009}{it|H}{supi|j}{sup|\u2009+\u20091}';

const graphics = [
  { type: 'text', x: 435.5, y: 12.5, style: { text: 'Mass Position vs Time', font: '19.5px "DejaVu Sans"', fill: '#000', align: 'center', verticalAlign: 'middle' }, silent: true },
  { type: 'text', x: 435.5, y: 294, style: { text: 'Mass Control Force vs Time', font: '19.5px "DejaVu Sans"', fill: '#000', align: 'center', verticalAlign: 'middle' }, silent: true },

  legendFrame(26, 115),
  legendLine(37.5, '#000', 1.5, DASH_DOT), legendText(37.5, switchLabel),
  legendLine(60.5, '#555', 1, [3, 1.5]),
  { type: 'text', x: 873, y: 60.5, style: { text: '{it|x}', rich: mathRich, verticalAlign: 'middle' }, z: 11, silent: true },
  { type: 'text', x: 882, y: 55, style: { text: 'r', font: 'italic 10px "DejaVu Sans"', fill: '#000', verticalAlign: 'middle' }, z: 11, silent: true },
  { type: 'text', x: 882, y: 66, style: { text: '3', font: '10px "DejaVu Sans"', fill: '#000', verticalAlign: 'middle' }, z: 11, silent: true },
  legendLine(83, C_BLUE, 1.5), legendText(83, '{it|x}{sub|1}'),
  legendLine(105.5, C_ORANGE, 1.5), legendText(105.5, '{it|x}{sub|2}'),
  legendLine(128, C_GREEN, 1.5), legendText(128, '{it|x}{sub|3}'),

  legendFrame(308, 92),
  legendLine(320, '#000', 1.5, DASH_DOT), legendText(320, switchLabel),
  legendLine(342, C_BLUE, 1.5), legendText(342, '{it|u}{sub|1}'),
  legendLine(364.5, C_ORANGE, 1.5), legendText(364.5, '{it|u}{sub|2}'),
  legendLine(387, C_GREEN, 1.5), legendText(387, '{it|u}{sub|3}')
];

const option = {
  animation: false,
  backgroundColor: '#fff',
  grid: [
    { left: 61, top: 24, width: 749, height: 202, outerBoundsMode: 'none', containLabel: false,
      show: true, borderColor: '#000', borderWidth: 1, backgroundColor: 'transparent' },
    { left: 61, top: 307, width: 749, height: 202, outerBoundsMode: 'none', containLabel: false,
      show: true, borderColor: '#000', borderWidth: 1, backgroundColor: 'transparent' }
  ],
  xAxis: [xAxis(0), xAxis(1)],
  yAxis: [
    yAxis(0, -0.75, 0.75, posTicks, v => minus(v.toFixed(1)), '{i|x}{s|(•)}{n|[}{i|m}{n|]}', 30, {
      i: { fontFamily: FONT, fontStyle: 'italic', fontSize: 15.5, lineHeight: 24 },
      n: { fontFamily: FONT, fontSize: 15.5, lineHeight: 24 },
      s: { fontFamily: FONT, fontSize: 11, verticalAlign: 'bottom' }
    }),
    yAxis(1, -7.5, 7.5, forceTicks, v => minus(String(Math.round(v))), 'Control Force [N]', 26)
  ],
  series: [
    // unsafe-region bands, kept under the grid lines
    {
      name: 'bands', type: 'line', xAxisIndex: 0, yAxisIndex: 0, data: pairs(posX3Ref, refStep),
      showSymbol: false, lineStyle: { opacity: 0 }, animation: false, z: -1, silent: true,
      markArea: Object.assign({}, noMarkerDeco, {
        itemStyle: { color: 'rgba(255,0,0,0.5)' },
        data: [[{ yAxis: posBandUpper[0] }, { yAxis: posBandUpper[1] }], [{ yAxis: posBandLower[0] }, { yAxis: posBandLower[1] }]]
      })
    },
    {
      name: 'x3r', type: 'line', xAxisIndex: 0, yAxisIndex: 0, data: pairs(posX3Ref, refStep),
      showSymbol: false, smooth: 0.4, lineStyle: { color: '#777', width: 1, type: [3, 1.5] }, animation: false, z: 2,
      markLine: Object.assign({}, noMarkerDeco, { data: [{ yAxis: 0, lineStyle: { color: '#000', width: 1.2, type: 'solid' } }] })
    },
    posSeries('x1', posX1, C_BLUE),
    posSeries('x2', posX2, C_ORANGE),
    posSeries('x3', posX3, C_GREEN, { markLine: Object.assign({}, noMarkerDeco, { data: switchMarks }) }),

    forceSeries('u1', forceU1, C_BLUE, 1.5),
    forceSeries('u2', forceU2, C_ORANGE, 1.5),
    forceSeries('u3', forceU3, C_GREEN, 1.6, {
      markLine: Object.assign({}, noMarkerDeco, {
        data: switchMarks.concat(forceLimits.map(v => ({ yAxis: v, lineStyle: { color: '#444', width: 1, type: [4, 2] } })))
      })
    })
  ],
  graphic: graphics
};

const chart = echarts.init(document.getElementById('chart'), null, { renderer: 'canvas' });
chart.setOption(option);
</script>
</body>
</html>
